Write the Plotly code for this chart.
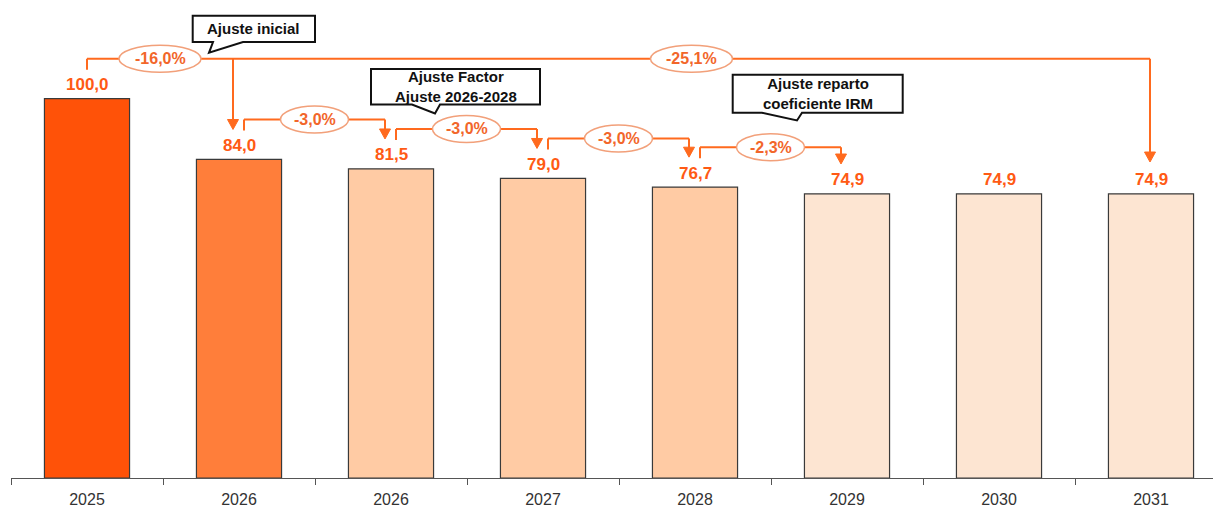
import plotly.graph_objects as go

# ---------------- data ----------------
categories = ["2025", "2026", "2026", "2027", "2028", "2029", "2030", "2031"]
values = [100.0, 84.0, 81.5, 79.0, 76.7, 74.9, 74.9, 74.9]
value_labels = ["100,0", "84,0", "81,5", "79,0", "76,7", "74,9", "74,9", "74,9"]

# step changes between consecutive bars: (from index, to index, label)
step_from = [0, 1, 2, 3, 4]
step_to = [1, 2, 3, 4, 5]
step_labels = ["-16,0%", "-3,0%", "-3,0%", "-3,0%", "-2,3%"]
total_label = "-25,1%"
total_to = 7

callout_texts = ["Ajuste inicial", "Ajuste Factor<br>Ajuste 2026-2028",
                 "Ajuste reparto<br>coeficiente IRM"]

# ---------------- styles ----------------
bar_colors = ["#FF5208", "#FF7E3A", "#FFCBA4", "#FFCBA4", "#FFCBA4",
              "#FDE5D2", "#FDE5D2", "#FDE5D2"]
ORANGE_TXT = "#FF5A14"
LINE_C = "#FF6A1E"
ELL_C = "#F2A07A"
FONT = "Liberation Sans, Arial, sans-serif"

W, H = 1213, 508
ML, MB = 11, 28
PLOT_W = W - ML
PLOT_H = H - MB
PX_PER_CAT = 152.0
YMAX = 126.0
X0 = -0.5
X1 = X0 + PLOT_W / PX_PER_CAT
PX_PER_Y = PLOT_H / YMAX


def dx(px):
    return px / PX_PER_CAT


def dy(px):
    return px / PX_PER_Y


xs = list(range(len(categories)))

fig = go.Figure()
fig.add_trace(go.Bar(
    x=xs, y=values, width=0.56,
    marker=dict(color=bar_colors, line=dict(color="#3A3A3A", width=1.2)),
    hoverinfo="skip",
))

shapes = []
annotations = []

# value labels
for x, v, t in zip(xs, values, value_labels):
    annotations.append(dict(x=x, y=v, text=f"<b>{t}</b>", showarrow=False,
                            yanchor="middle", yshift=14,
                            font=dict(family=FONT, size=17, color=ORANGE_TXT)))


def seg(xa, ya, xb, yb):
    shapes.append(dict(type="line", x0=xa, y0=ya, x1=xb, y1=yb,
                       line=dict(color=LINE_C, width=2), layer="above"))


def arrow_down(x, y_from, y_tip):
    seg(x, y_from, x, y_tip + dy(9))
    path = (f"M {x - dx(5.5)} {y_tip + dy(10)} L {x + dx(5.5)} {y_tip + dy(10)} "
            f"L {x} {y_tip} Z")
    shapes.append(dict(type="path", path=path, fillcolor=LINE_C,
                       line=dict(color=LINE_C, width=1), layer="above"))


ellipses = []


def ellipse(xc, yc, label):
    w = dx(14 * len(label) - 2)
    h = dy(27)
    ellipses.append(dict(type="circle", x0=xc - w / 2, x1=xc + w / 2,
                         y0=yc - h / 2, y1=yc + h / 2, fillcolor="white",
                         line=dict(color=ELL_C, width=1.5), layer="above"))
    annotations.append(dict(x=xc, y=yc, text=f"<b>{label}</b>", showarrow=False,
                            yanchor="middle",
                            font=dict(family=FONT, size=16, color="#F2662A")))


first_end_x = None
first_h = None
for i, j, lab in zip(step_from, step_to, step_labels):
    vi, vj = values[i], values[j]
    xs_ = i + (dx(0) if i == 0 else dx(5))
    y_start = vi + dy(29)
    y_h = vi + dy(40)
    xe = j - dx(6)
    y_tip = vj + dy(30)
    seg(xs_, y_start, xs_, y_h)
    seg(xs_, y_h, xe, y_h)
    arrow_down(xe, y_h, y_tip)
    ellipse((xs_ + xe) / 2, y_h, lab)
    if first_end_x is None:
        first_end_x, first_h = xe, y_h

# overall change bracket
xt = total_to - dx(1)
seg(first_end_x, first_h, xt, first_h)
arrow_down(xt, first_h, values[total_to] + dy(32))
ellipse((first_end_x + xt) / 2, first_h, total_label)

shapes.extend(ellipses)


# callouts (pixel layout -> paper coords)
def px2p(px, py):
    return (px - ML) / PLOT_W, (PLOT_H - py) / PLOT_H


callouts = [
    # box x0, y0, x1, y1, tail base left, tail base right, tip x, tip y
    (192.7, 15.7, 315.0, 42.3, 213, 243, 209, 53),
    (371.0, 69.3, 540.0, 105.0, 412, 440, 435, 114),
    (732.7, 75.0, 902.7, 113.3, 762, 802, 797, 121),
]
for (bx0, by0, bx1, by1, tl, tr, tx, ty), text in zip(callouts, callout_texts):
    pts = [(bx0, by0), (bx1, by0), (bx1, by1), (tr, by1), (tx, ty), (tl, by1), (bx0, by1)]
    pp = [px2p(a, b) for a, b in pts]
    path = "M " + " L ".join(f"{a} {b}" for a, b in pp) + " Z"
    shapes.append(dict(type="path", xref="paper", yref="paper", path=path,
                       fillcolor="white", line=dict(color="#111111", width=2),
                       layer="above"))
    cx, cy = px2p((bx0 + bx1) / 2, (by0 + by1) / 2)
    annotations.append(dict(x=cx, y=cy, xref="paper", yref="paper",
                            text=f"<b>{text}</b>", showarrow=False,
                            yanchor="middle", xanchor="center",
                            font=dict(family=FONT, size=15, color="#111111")))

fig.update_layout(
    width=W, height=H,
    margin=dict(l=ML, r=0, t=0, b=MB, pad=0),
    plot_bgcolor="white", paper_bgcolor="white",
    showlegend=False,
    shapes=shapes,
    annotations=annotations,
    xaxis=dict(
        range=[X0, X1], tickmode="array", tickvals=xs, ticktext=categories,
        ticks="", showgrid=False, zeroline=False,
        showline=True, linecolor="#555555", linewidth=1,
        ticklabelstandoff=7,
        tickfont=dict(family=FONT, size=16, color="#333333"),
        minor=dict(tickmode="array",
                   tickvals=[k - 0.5 for k in range(len(categories) + 1)],
                   ticks="outside", ticklen=6, tickcolor="#555555", tickwidth=1),
        fixedrange=True,
    ),
    yaxis=dict(range=[0, YMAX], visible=False, showgrid=False, fixedrange=True),
)

fig.write_html("out.html", config={"displayModeBar": False},
               post_script="document.body.style.margin='0';document.body.style.overflow='hidden';")
